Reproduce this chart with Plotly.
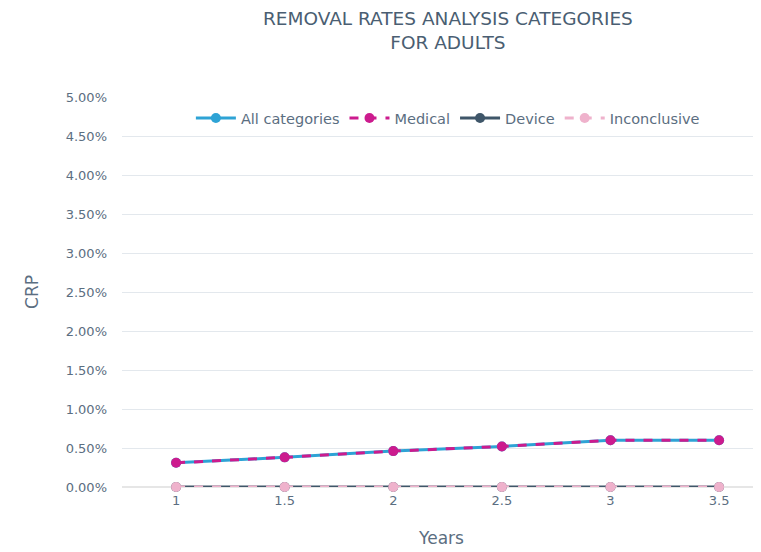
import plotly.graph_objects as go

years = [1, 1.5, 2, 2.5, 3, 3.5]
all_categories = [0.31, 0.38, 0.46, 0.52, 0.60, 0.60]
medical = [0.31, 0.38, 0.46, 0.52, 0.60, 0.60]
device = [0, 0, 0, 0, 0, 0]
inconclusive = [0, 0, 0, 0, 0, 0]

y_ticks = [0, 0.5, 1, 1.5, 2, 2.5, 3, 3.5, 4, 4.5, 5]

font = "DejaVu Sans, Arial, sans-serif"
text_col = "#5b6e81"

# the page body has an 8px margin, so the figure is sized to fit the window
W, H = 753, 544

fig = go.Figure()

series = [
    ("All categories", all_categories, "#2ea3d5", "solid"),
    ("Medical", medical, "#cc1b8e", "dash"),
    ("Device", device, "#3f5669", "solid"),
    ("Inconclusive", inconclusive, "#efb2cc", "dash"),
]
for name, vals, col, dash in series:
    fig.add_trace(go.Scatter(
        x=years, y=vals, name=name, mode="lines+markers",
        line=dict(color=col, width=3, dash=dash),
        marker=dict(color=col, size=10),
        cliponaxis=False,
    ))

fig.update_layout(
    width=W, height=H,
    margin=dict(l=114, r=0, t=89, b=65),
    paper_bgcolor="white", plot_bgcolor="white",
    font=dict(family=font, color=text_col, size=13),
    title=dict(
        text="REMOVAL RATES ANALYSIS CATEGORIES<br>FOR ADULTS",
        x=0.51, xref="paper", xanchor="center",
        y=1 - 17 / H, yref="container", yanchor="middle",
        font=dict(size=18.5, color="#4a5e72"),
    ),
    legend=dict(
        orientation="h", x=0.51, xanchor="center", y=0.946, yanchor="middle",
        font=dict(size=14.5, color=text_col), bgcolor="rgba(0,0,0,0)",
        itemwidth=40,
    ),
    showlegend=True,
)

fig.update_xaxes(
    range=[0.751, 3.693], tickvals=years, ticktext=[str(v) for v in years],
    showgrid=False, zeroline=False, showline=False, ticks="",
    ticklabelstandoff=4,
    title=dict(text="Years", font=dict(size=17, color=text_col), standoff=25),
    tickfont=dict(size=13, color=text_col),
)
fig.update_yaxes(
    range=[0, 5], tickvals=y_ticks, ticktext=[f"{v:.2f}%" for v in y_ticks],
    showgrid=True, gridcolor="#e3e8ed", gridwidth=1,
    zeroline=True, zerolinecolor="#e6e6e6", zerolinewidth=2,
    ticks="", ticklabelstandoff=14,
    title=dict(text="CRP", font=dict(size=17, color=text_col), standoff=22),
    tickfont=dict(size=13, color=text_col),
)

fig.write_html("out.html")
